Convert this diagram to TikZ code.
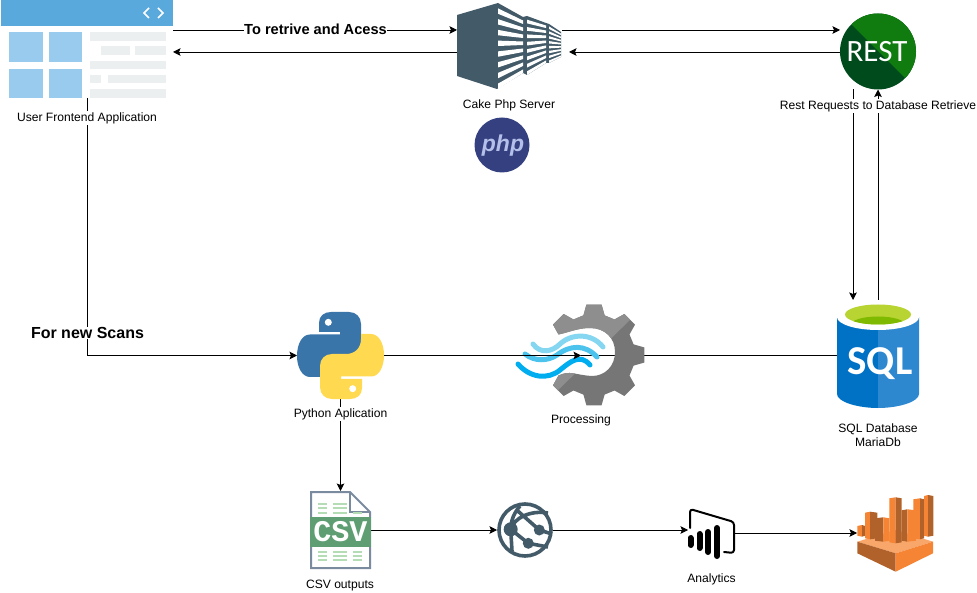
\documentclass[tikz,border=0pt]{standalone}
\usepackage{fontspec}
\setmainfont{Liberation Sans}
\newfontfamily\restfont{Carlito}
\newfontfamily\csvfont{Liberation Mono}
\usetikzlibrary{arrows.meta}
\definecolor{slateblue}{HTML}{435A68}
\definecolor{headblue}{HTML}{5AA9DD}
\definecolor{paneblue}{HTML}{99CBEE}
\definecolor{panegray}{HTML}{ECEFF0}
\definecolor{orangea}{HTML}{F58534}
\definecolor{orangeb}{HTML}{B0622A}
\definecolor{orangec}{HTML}{F9A66B}
\definecolor{phpblue}{HTML}{34407F}
\definecolor{phptext}{HTML}{B5C0EA}
\definecolor{restdark}{HTML}{004B1C}
\definecolor{restlight}{HTML}{107C10}
\definecolor{pyblue}{HTML}{3A75A9}
\definecolor{pyyellow}{HTML}{FFD94F}
\definecolor{geardark}{HTML}{767676}
\definecolor{gearlight}{HTML}{8E8E8E}
\definecolor{wavea}{HTML}{85D6F0}
\definecolor{waveb}{HTML}{4CC3EC}
\definecolor{wavec}{HTML}{00AEEF}
\definecolor{sqldark}{HTML}{0072C6}
\definecolor{sqllight}{HTML}{2E88D0}
\definecolor{sqltop}{HTML}{B8D432}
\definecolor{sqlwell}{HTML}{7FBA00}
\definecolor{csvedge}{HTML}{7A8BA0}
\definecolor{csvrow}{HTML}{B5DDB5}
\definecolor{csvband}{HTML}{5E9E72}
\tikzset{
  icon/.style={inner sep=0pt,outer sep=0pt},
  lbl/.style={font=\fontsize{12.1}{14}\selectfont,fill=white,inner sep=1pt,align=center},
  boldlbl/.style={font=\fontsize{14.6}{17}\selectfont\bfseries,fill=white,inner sep=0pt},
  link/.style={draw=black,line width=0.9pt},
  arrowlink/.style={link,-{Stealth[length=7.5pt,width=7.5pt,inset=1.5pt]}},
}
\begin{document}
\begin{tikzpicture}[x=1pt,y=-1pt]
  \useasboundingbox (0,0) rectangle (977,593);
  % places of the icons
  \node[icon,minimum width=172pt,minimum height=98pt] (frontend) at (87,49) {};
  \node[icon,minimum width=105pt,minimum height=86pt] (server) at (509.5,46) {};
  \node[icon,minimum width=76pt,minimum height=76pt] (rest) at (878,51.5) {};
  \node[icon,minimum width=87pt,minimum height=87pt] (python) at (340.5,355.5) {};
  \node[icon,minimum width=128pt,minimum height=100pt] (processing) at (581,355.5) {};
  \node[icon,minimum width=82pt,minimum height=104pt] (sql) at (878,355.5) {};
  \node[icon,minimum width=61pt,minimum height=78pt] (csv) at (340.5,530) {};
  \node[icon,minimum width=56pt,minimum height=56pt] (network) at (525,530) {};
  \node[icon,minimum width=46pt,minimum height=44pt] (analytics) at (711,532) {};
  \node[icon,minimum width=77pt,minimum height=77pt] (kinesis) at (895.5,533.5) {};

  % connectors
  \draw[arrowlink] ([yshift=19pt]frontend.east) -- ([yshift=16pt]server.west);
  \draw[arrowlink] ([yshift=-6pt]server.west) -- ([yshift=-3pt]frontend.east);
  \draw[arrowlink] ([yshift=16pt]server.east) -- ([yshift=21.5pt]rest.west);
  \draw[arrowlink,shorten >=7pt] ([yshift=-0.5pt]rest.west) -- ([yshift=-6pt]server.east);
  \draw[arrowlink,shorten >=3.5pt] ([xshift=-25pt]rest.south) -- ([xshift=-25pt]sql.north);
  \draw[arrowlink,shorten <=3.5pt] (sql.north) -- (rest.south);
  \draw[arrowlink] (frontend.south) |- (python.west);
  \draw[arrowlink] (python.south) -- (csv.north);
  \draw[arrowlink] (csv.east) -- (network.west);
  \draw[arrowlink] (network.east) -- ([yshift=2pt]analytics.west);
  \draw[arrowlink] ([yshift=-1pt]analytics.east) -- ([yshift=0.5pt]kinesis.west);
  \draw[link] (sql.west) -- (processing.center);

  % frontend window
  \fill[headblue] (1,0) rectangle (173,26);
  \draw[white,line width=1.6pt] (149,8) -- (144,13) -- (149,18) (158,8) -- (163,13) -- (158,18);
  \foreach \xa/\ya/\xb/\yb in {9/32/43/62,49/32/82/62,9/69/43/98,49/69/82/98}
    \fill[paneblue] (\xa,\ya) rectangle (\xb,\yb);
  \foreach \xa/\ya/\xb/\yb in {90/32/166/41,101/46/130/55,135/46/166/55,90/61/166/69,90/75/101/83,108/75/166/83,90/89/166/98}
    \fill[panegray] (\xa,\ya) rectangle (\xb,\yb);

  % server blocks
  \fill[slateblue] (457,15) -- (498,3) -- (523,17) -- (527,16) -- (546,23) -- (549,24) -- (561,32)
    -- (561,57) -- (549,63) -- (546,63) -- (527,75) -- (523,73) -- (497,89) -- (457,76) -- cycle;
  \foreach \xa/\ta/\ba/\xb/\tb/\bb in {498/3/89/523/17/73,527/16/75/546/23/63,549/24/63/561/32/57}
    \foreach \i in {0,...,7} {
      \pgfmathsetmacro{\ya}{\ta+(\ba-\ta)*(\i+0.5)/8}
      \pgfmathsetmacro{\yb}{\ta+(\ba-\ta)*(\i+1)/8}
      \pgfmathsetmacro{\yc}{\tb+(\bb-\tb)*(\i+1)/8}
      \pgfmathsetmacro{\yd}{\tb+(\bb-\tb)*(\i+0.5)/8}
      \fill[white] (\xa,\ya) -- (\xa,\yb) -- (\xb,\yc) -- (\xb,\yd) -- cycle;
    }

  % php badge
  \node[circle,fill=phpblue,minimum size=55pt,inner sep=0pt] (php) at (502,145) {};
  \node[icon,text=phptext,font=\fontsize{23}{23}\selectfont\bfseries\itshape] (phplogo) at (503,146) {php};

  % rest badge
  \fill[restdark] (rest.center) circle (38);
  \begin{scope}
    \clip (rest.center) circle (38);
    \fill[restlight] (852,25) -- (905,78) -- (930,78) -- (930,0) -- (852,0) -- cycle;
  \end{scope}
  \node[icon,text=white,font=\fontsize{31}{31}\selectfont\restfont] (restlogo) at (877,51.5) {REST};

  % python logo
  \def\snake{(319,323) .. controls (319,316) and (324,312) .. (331,312) -- (349,312)
    .. controls (356,312) and (361,317) .. (361,324) -- (361,345)
    .. controls (361,352) and (356,357) .. (349,357) -- (335,357)
    .. controls (326,357) and (320,363) .. (320,372) -- (320,377) -- (310,377)
    .. controls (302,377) and (297,367) .. (297,356) .. controls (297,344) and (302,334.5) .. (310,334.5)
    -- (340,334.5) -- (340,332) -- (319,332) -- cycle}
  \fill[pyblue] \snake;
  \fill[pyyellow,rotate around={180:(340.5,355.5)}] \snake;
  \fill[white] (328.3,322.3) circle (3.5);
  \fill[white] (352.7,388.7) circle (3.5);

  % gear
  \begin{scope}[shift={(594,355)}]
    \def\gearshape{(-150:41) \foreach \a in {-135,-90,-45,0,45,90,135} {
        -- (\a-15:41) -- (\a-8.5:51) -- (\a+8.5:51) -- (\a+15:41) }
      .. controls (-24,15) and (-19,20) .. (-2,21) .. controls (11,21) and (21,11) .. (21,-3)
      .. controls (21,-17) and (11,-27) .. (-4,-27) .. controls (-16,-27) and (-24,-23) .. (-35.5,-20.5) -- cycle}
    \fill[geardark] \gearshape;
    \clip (38,-37) -- (-44,43) -- (-70,43) -- (-70,-60) -- (38,-60) -- cycle;
    \fill[gearlight] \gearshape;
  \end{scope}
  % waves
  \draw[line width=5pt,line cap=round,wavea] (533,344)
    .. controls (540,354) and (552,352) .. (560,344) .. controls (572,333) and (592,333) .. (603,347);
  \draw[line width=5pt,line cap=round,waveb] (525,354)
    .. controls (535,362) and (548,361) .. (557,355) .. controls (570,345) and (585,344) .. (597,357);
  \draw[line width=5pt,line cap=round,wavec] (518,364)
    .. controls (530,378) and (548,380) .. (560,370) .. controls (570,362) and (580,353) .. (590,365);
  \draw[arrowlink] (python.east) -- (processing.center);

  % database
  \fill[sqldark] (837,317) -- (837,394) .. controls (837,402) and (858,408) .. (878,408) -- (878,317) -- cycle;
  \fill[sqllight] (919,317) -- (919,394) .. controls (919,402) and (898,408) .. (878,408) -- (878,317) -- cycle;
  \fill[white] (878,317) ellipse (41 and 13);
  \fill[sqltop] (878,314.5) ellipse (33 and 10);
  \begin{scope}
    \clip (878,314.5) ellipse (33 and 10);
    \fill[sqlwell] (878,324.5) ellipse (27 and 8);
  \end{scope}
  \node[icon,text=white,font=\fontsize{41}{41}\selectfont\restfont\bfseries] (sqllogo) at (880,364) {SQL};

  % csv sheet
  \draw[line width=2pt,draw=csvedge,fill=white] (311,492) -- (350,492) -- (370,512) -- (370,568) -- (311,568) -- cycle;
  \draw[line width=2pt,csvedge] (350,492) -- (350,512) -- (370,512);
  \foreach \y in {504,508}
    \foreach \xa/\xb in {318/327,333/347}
      \draw[line width=1.8pt,csvrow] (\xa,\y) -- (\xb,\y);
  \foreach \y in {552,556,560,513}
    \foreach \xa/\xb in {318/327,333/347,353/362}
      \draw[line width=1.8pt,csvrow] (\xa,\y) -- (\xb,\y);
  \fill[csvband] (310,517) rectangle (371,547);
  \node[icon,text=white,font=\fontsize{30}{30}\selectfont\csvfont\bfseries] (csvlogo) at (340.5,532) {CSV};

  % network globe
  \draw[slateblue,line width=3.6pt] (network.center) circle (26);
  \draw[slateblue,line width=3.6pt] (516.7,510) -- (539.3,530) (510.7,529.3) -- (528.3,543.3) -- (548,547)
    (510.7,529.3) .. controls (514,518) and (530,510) .. (548,513)
    (510.7,529.3) .. controls (511,520) and (514,513) .. (520,506)
    (510.7,529.3) -- (512,551) (539.3,530) -- (552,534);
  \fill[slateblue] (510.7,529.3) circle (7) (539.3,530) circle (5.5) (528.3,543.3) circle (5.5);

  % analytics
  \draw[line width=2pt,line cap=round,line join=round,rounded corners=3pt] (690,528) -- (690,509) -- (734,522) -- (734,553) -- (724,552);
  \foreach \x/\ya/\yb in {690.5/538/545,699.5/534/548,708/532/552,717/528/556}
    \draw[line width=6pt,line cap=round] (\x,\ya) -- (\x,\yb);

  % bars on the tray
  \fill[orangec] (857.3,541.7) -- (895.7,530) -- (933,541.7) -- (895.7,553.3) -- cycle;
  \fill[orangeb] (857.3,541.7) -- (895.7,553.3) -- (895.7,571.7) -- (857.3,553.3) -- cycle;
  \fill[orangea] (933,541.7) -- (895.7,553.3) -- (895.7,571.7) -- (933,553.3) -- cycle;
  \foreach \xa/\xm/\xb/\yt/\yb/\cl/\cr in {
      857.3/862/865/525/536.7/orangea/orangeb,
      865/870/877.3/511.7/539.3/orangea/orangeb,
      875/883.3/889.3/517.3/541.7/orangeb/orangea,
      901.7/907.3/916/509.3/541.7/orangeb/orangea,
      913.3/920/924/498.3/539.3/orangea/orangeb,
      924/928/933.3/495/536.7/orangea/orangeb,
      889.3/895.7/901.7/497.3/543.3/orangea/orangeb} {
    \fill[\cl] (\xa,\yt+1) -- (\xm,\yt) -- (\xm,\yb) -- (\xa,\yb-1) -- cycle;
    \fill[\cr] (\xm,\yt) -- (\xb,\yt+1) -- (\xb,\yb-1) -- (\xm,\yb) -- cycle;
  }

  % labels
  \node[boldlbl] (accesslbl) at (315.5,29) {To retrive and Acess};
  \node[boldlbl,font=\fontsize{16}{19}\selectfont\bfseries] (scanslbl) at (87.5,333) {For new Scans};
  \node[lbl] (frontendlbl) at (87,118) {User Frontend Application};
  \node[lbl] (serverlbl) at (509,105) {Cake Php Server};
  \node[lbl] (restlbl) at (878,106) {Rest Requests to Database Retrieve};
  \node[lbl] (pythonlbl) at (340.5,414) {Python Aplication};
  \node[lbl] (processinglbl) at (581,420.5) {Processing};
  \node[lbl] (sqllbl) at (878,435) {SQL Database\\MariaDb};
  \node[lbl] (csvlbl) at (340,585.5) {CSV outputs};
  \node[lbl] (analyticslbl) at (711.5,579.5) {Analytics};
\end{tikzpicture}
\end{document}
